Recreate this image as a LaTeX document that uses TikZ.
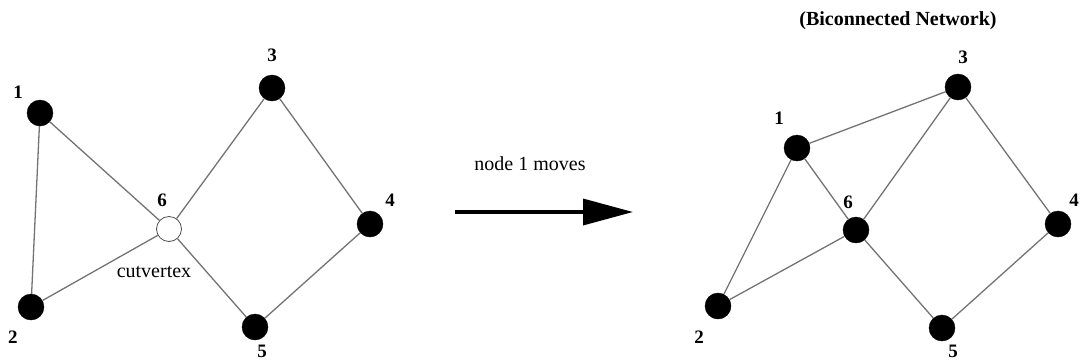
\documentclass[tikz,border=0pt]{standalone}
\usepackage{fontspec}
\setmainfont{Liberation Serif}
\usetikzlibrary{arrows.meta}
\begin{document}
\begin{tikzpicture}[x=1pt,y=-1pt,
  vtx/.style={circle,fill=black,draw=black,minimum size=26pt,inner sep=0pt},
  cut/.style={circle,fill=white,draw=black!70,line width=0.8pt,minimum size=25pt,inner sep=0pt},
  lab/.style={font=\fontsize{19}{19}\selectfont\bfseries,inner sep=0pt},
  txt/.style={font=\fontsize{20}{20}\selectfont,inner sep=0pt},
  edge/.style={draw=black!55,line width=1.3pt}]
\useasboundingbox (0,0) rectangle (1080,360);
% left graph
\node[vtx] (a1) at (40,113) {};
\node[vtx] (a2) at (31,307) {};
\node[cut] (a6) at (169,229) {};
\node[vtx] (a3) at (272,88) {};
\node[vtx] (a4) at (370,224) {};
\node[vtx] (a5) at (255,327) {};
\draw[edge] (a1) -- (a2);
\draw[edge] (a1) -- (a6);
\draw[edge] (a2) -- (a6);
\draw[edge] (a6) -- (a3);
\draw[edge] (a6) -- (a5);
\draw[edge] (a3) -- (a4);
\draw[edge] (a4) -- (a5);
\node[lab] (la1) at (18,92) {1};
\node[lab] (la2) at (13,337) {2};
\node[lab] (la6) at (162,200) {6};
\node[lab] (la3) at (272,55) {3};
\node[lab] (la4) at (390,200) {4};
\node[lab] (la5) at (262,351) {5};
\node[txt] (cv) at (154,272) {cutvertex};
% arrow
\coordinate (s) at (455,212);
\coordinate (e) at (633,212);
\draw[line width=3.5pt,-{Triangle[length=50pt,width=26pt]}] (s) -- (e);
\node[txt] (mv) at (530,164) {node 1 moves};
% right graph
\node[txt,font=\fontsize{20}{20}\selectfont\bfseries] (title) at (898,21) {(Biconnected Network)};
\node[vtx] (b1) at (797,148) {};
\node[vtx] (b2) at (718,306) {};
\node[vtx] (b6) at (856,230) {};
\node[vtx] (b3) at (958,87) {};
\node[vtx] (b4) at (1058,224) {};
\node[vtx] (b5) at (942,328) {};
\draw[edge] (b1) -- (b3);
\draw[edge] (b1) -- (b2);
\draw[edge] (b1) -- (b6);
\draw[edge] (b6) -- (b3);
\draw[edge] (b6) -- (b2);
\draw[edge] (b6) -- (b5);
\draw[edge] (b3) -- (b4);
\draw[edge] (b4) -- (b5);
\node[lab] (lb1) at (779,118) {1};
\node[lab] (lb2) at (699,337) {2};
\node[lab] (lb6) at (848,202) {6};
\node[lab] (lb3) at (963,57) {3};
\node[lab] (lb4) at (1074,200) {4};
\node[lab] (lb5) at (953,351) {5};
\end{tikzpicture}
\end{document}
